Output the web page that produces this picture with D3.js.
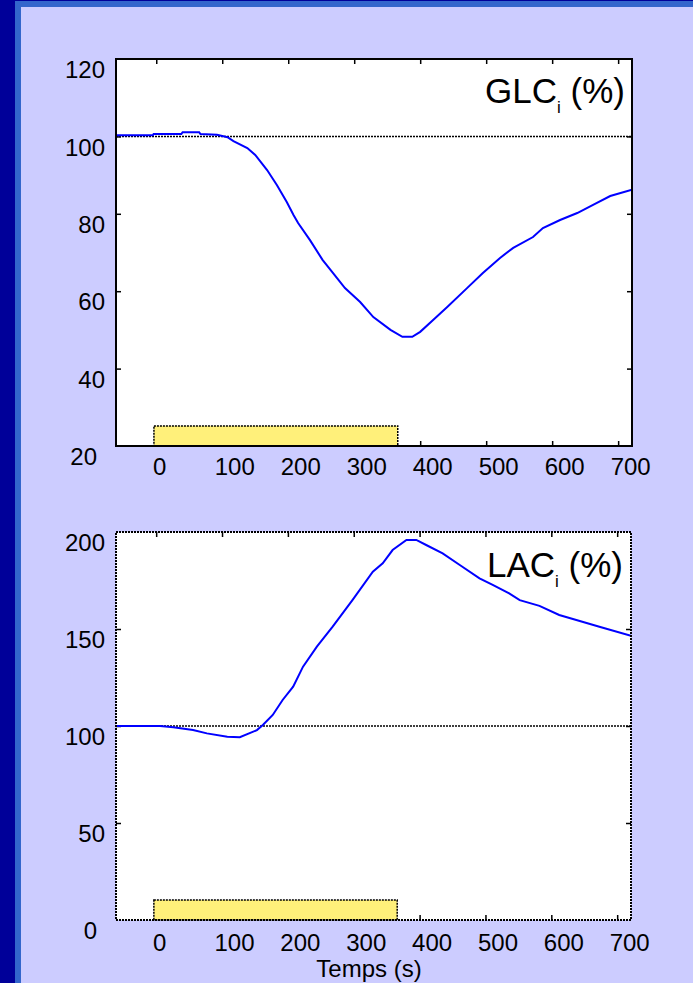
<!DOCTYPE html>
<html>
<head>
<meta charset="utf-8">
<script src="https://cdn.jsdelivr.net/npm/d3@7"></script>
<style>
  body { margin: 0; background: #000099; }
  text { font-family: "Liberation Sans", Arial, sans-serif; fill: #000; }
</style>
</head>
<body>
<div id="slide"></div>
<script>
// --- data ---
const timeTicks = [0, 100, 200, 300, 400, 500, 600, 700];
const glcTicks = [20, 40, 60, 80, 100, 120];
const lacTicks = [0, 50, 100, 150, 200];

const glcTime = [-61, -5, -4, 38, 40, 65, 67, 92, 108, 117, 138, 150, 168, 183, 198, 208, 215, 233, 252, 268, 286, 309, 329, 355, 373, 388, 400, 420, 441, 471, 495, 521, 541, 571, 586, 612, 638, 662, 688, 721];
const glcValue = [100.3, 100.3, 100.6, 100.6, 101.1, 101.1, 100.6, 100.4, 99.8, 98.8, 97.0, 95.2, 91.3, 87.4, 83.0, 79.7, 77.6, 73.2, 68.1, 64.7, 60.8, 57.2, 53.3, 50.0, 48.2, 48.2, 49.5, 52.6, 55.9, 60.8, 64.7, 68.6, 71.2, 74.0, 76.3, 78.4, 80.2, 82.3, 84.6, 86.2];

const lacTime = [-61, 6, 26, 56, 77, 108, 127, 153, 162, 177, 192, 208, 223, 244, 268, 298, 329, 344, 359, 380, 395, 410, 435, 461, 491, 511, 536, 552, 582, 612, 638, 673, 721];
const lacValue = [100, 100, 99.3, 97.9, 96.2, 94.5, 94.2, 97.9, 100.5, 105.7, 113.4, 120.3, 130.6, 140.9, 151.2, 164.9, 179.5, 183.9, 190.7, 195.9, 195.9, 193.3, 189.0, 183.0, 176.1, 172.7, 168.4, 164.9, 161.9, 157.2, 154.6, 151.2, 146.5];

const stimulus = [-3.5, 366];   // yellow bar, seconds
const baseline = 100;

const W = 693, H = 983;

const svg = d3.select("#slide").append("svg")
    .attr("width", W)
    .attr("height", H);

// slide background
svg.append("rect").attr("width", W).attr("height", H).attr("fill", "#000099");
svg.append("rect").attr("x", 15).attr("y", 1).attr("width", W - 15).attr("height", H).attr("fill", "#3366cc");
svg.append("rect").attr("x", 21).attr("y", 7).attr("width", W - 21).attr("height", H).attr("fill", "#ccccff");

function drawPanel(opt) {
    const w = opt.width, h = opt.height;
    const x = d3.scaleLinear().domain([-61, 721]).range([0, w]);
    const y = d3.scaleLinear().domain(opt.yDomain).range([h, 0]);

    const g = svg.append("g").attr("transform", "translate(" + opt.left + "," + opt.top + ")");

    g.append("clipPath").attr("id", opt.id)
        .append("rect").attr("width", w).attr("height", h);

    g.append("rect").attr("width", w).attr("height", h).attr("fill", "#fff");

    // inward tick marks
    const tickMarks = (axis, tx, ty) => g.append("g")
        .attr("transform", "translate(" + tx + "," + ty + ")")
        .call(axis.tickSize(-5).tickFormat(""))
        .call(s => s.select(".domain").remove())
        .call(s => s.selectAll("line").attr("stroke", "#000").attr("stroke-width", 1.5));
    tickMarks(d3.axisTop(x).tickValues(timeTicks), 0, 0);
    tickMarks(d3.axisBottom(x).tickValues(timeTicks), 0, h);
    tickMarks(d3.axisLeft(y).tickValues(opt.yTicks.slice(1, -1)), 0, 0);
    tickMarks(d3.axisRight(y).tickValues(opt.yTicks.slice(1, -1)), w, 0);

    // stimulus bar
    g.append("rect")
        .attr("x", x(stimulus[0]))
        .attr("y", y(opt.barTop))
        .attr("width", x(stimulus[1]) - x(stimulus[0]))
        .attr("height", h - y(opt.barTop))
        .attr("fill", "#fff07a")
        .attr("stroke", "#000")
        .attr("stroke-width", 1.5)
        .attr("stroke-dasharray", "2,1");

    // 100 % reference line
    g.append("line")
        .attr("x1", 0).attr("x2", w)
        .attr("y1", y(baseline)).attr("y2", y(baseline))
        .attr("stroke", "#000")
        .attr("stroke-width", 1.5)
        .attr("stroke-dasharray", "2,1");

    const line = d3.line()
        .x(d => x(d[0]))
        .y(d => y(d[1]));

    g.append("path")
        .datum(d3.zip(opt.time, opt.value))
        .attr("clip-path", "url(#" + opt.id + ")")
        .attr("fill", "none")
        .attr("stroke", "#0000ff")
        .attr("stroke-width", 2)
        .attr("d", line);

    // frame
    g.append("rect")
        .attr("width", w).attr("height", h)
        .attr("fill", "none")
        .attr("stroke", "#000")
        .attr("stroke-width", 2)
        .attr("stroke-dasharray", opt.dotted ? "2,1" : null);

    // tick labels (placed a little off, as on the slide)
    g.append("g")
        .call(d3.axisLeft(y).tickValues(opt.yTicks).tickSize(0).tickPadding(11))
        .call(s => s.select(".domain").remove())
        .call(s => s.selectAll("text")
            .attr("font-size", 24)
            .attr("font-family", "Liberation Sans, Arial, sans-serif")
            .attr("transform", (d, i) => "translate(" + (i === 0 ? -8 : 0) + ",11)"));

    g.append("g")
        .attr("transform", "translate(0," + h + ")")
        .call(d3.axisBottom(x).tickValues(timeTicks).tickSize(0).tickPadding(opt.xPad))
        .call(s => s.select(".domain").remove())
        .call(s => s.selectAll("text")
            .attr("font-size", 24)
            .attr("font-family", "Liberation Sans, Arial, sans-serif")
            .attr("transform", d => "translate(" + (d === 0 ? 3 : 12) + ",0)"));

    // panel title with subscript
    const t = g.append("text")
        .attr("x", opt.titleX)
        .attr("y", opt.titleY)
        .attr("text-anchor", "end")
        .attr("font-size", 35);
    t.append("tspan").text(opt.title);
    t.append("tspan").attr("font-size", 17).attr("dy", 10).text("i");
    t.append("tspan").attr("dy", -10).text(" (%)");

    return { g, x, y };
}

drawPanel({
    id: "clipGlc", left: 116, top: 59, width: 516, height: 387,
    yDomain: [20, 120], yTicks: glcTicks, barTop: 25.2,
    time: glcTime, value: glcValue,
    title: "GLC", titleX: 509, titleY: 44, xPad: 12, dotted: false
});

drawPanel({
    id: "clipLac", left: 116, top: 532, width: 515, height: 388,
    yDomain: [0, 200], yTicks: lacTicks, barTop: 10.3,
    time: lacTime, value: lacValue,
    title: "LAC", titleX: 507, titleY: 45, xPad: 14, dotted: true
});

svg.append("text")
    .attr("x", 369)
    .attr("y", 977)
    .attr("text-anchor", "middle")
    .attr("font-size", 24)
    .text("Temps (s)");
</script>
</body>
</html>
